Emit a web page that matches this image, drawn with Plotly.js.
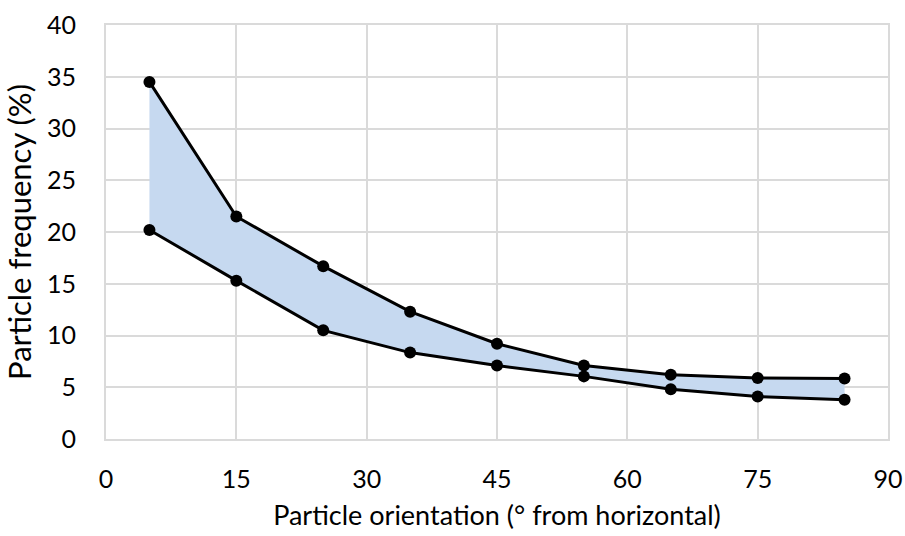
<!DOCTYPE html>
<html>
<head>
<meta charset="utf-8">
<script src="https://cdn.plot.ly/plotly-3.0.1.min.js"></script>
<style>html,body{margin:0;padding:0;background:#fff;}#chart{width:905px;height:536px;}</style>
</head>
<body>
<div id="chart"></div>
<script>
const orientation = [5, 15, 25, 35, 45, 55, 65, 75, 85];
const upperFreq = [34.5, 21.5, 16.7, 12.3, 9.2, 7.1, 6.2, 5.9, 5.85];
const lowerFreq = [20.2, 15.3, 10.5, 8.35, 7.1, 6.05, 4.8, 4.1, 3.8];
const xTicks = [0, 15, 30, 45, 60, 75, 90];
const yTicks = [0, 5, 10, 15, 20, 25, 30, 35, 40];

const fontFam = 'Lato, "Open Sans", sans-serif';
const grid = '#dadada';
const traces = [
  {x: orientation, y: lowerFreq, mode: 'lines+markers', type: 'scatter',
   line: {color: '#000', width: 3}, marker: {color: '#000', size: 12}, showlegend: false},
  {x: orientation, y: upperFreq, mode: 'lines+markers', type: 'scatter', fill: 'tonexty',
   fillcolor: '#c6d9f0', line: {color: '#000', width: 3}, marker: {color: '#000', size: 12}, showlegend: false}
];
const layout = {
  width: 905, height: 536,
  margin: {l: 106, r: 17, t: 25, b: 97},
  paper_bgcolor: '#fff', plot_bgcolor: '#fff',
  font: {family: fontFam, color: '#000', size: 25},
  xaxis: {range: [0, 90], tickvals: xTicks, ticktext: xTicks.map(String), showgrid: true, gridcolor: grid,
          gridwidth: 2, zeroline: false, showline: true, linecolor: grid, linewidth: 2, mirror: true,
          ticks: 'outside', ticklen: 17, tickcolor: 'rgba(0,0,0,0)', tickfont: {size: 25, family: fontFam}, fixedrange: true,
          automargin: false,
          title: {text: 'Particle orientation (° from horizontal)', font: {size: 27, family: fontFam}, standoff: 14}},
  yaxis: {range: [0, 40], tickvals: yTicks, ticktext: yTicks.map(String), showgrid: true, gridcolor: grid,
          gridwidth: 2, zeroline: false, showline: true, linecolor: grid, linewidth: 2, mirror: true,
          ticks: 'outside', ticklen: 23, tickcolor: 'rgba(0,0,0,0)', tickfont: {size: 25, family: fontFam}, fixedrange: true,
          automargin: false,
          title: {text: 'Particle frequency (%)', font: {size: 31, family: fontFam}, standoff: 8}}
};
Plotly.newPlot('chart', traces, layout, {displayModeBar: false, staticPlot: true});
</script>
</body>
</html>
